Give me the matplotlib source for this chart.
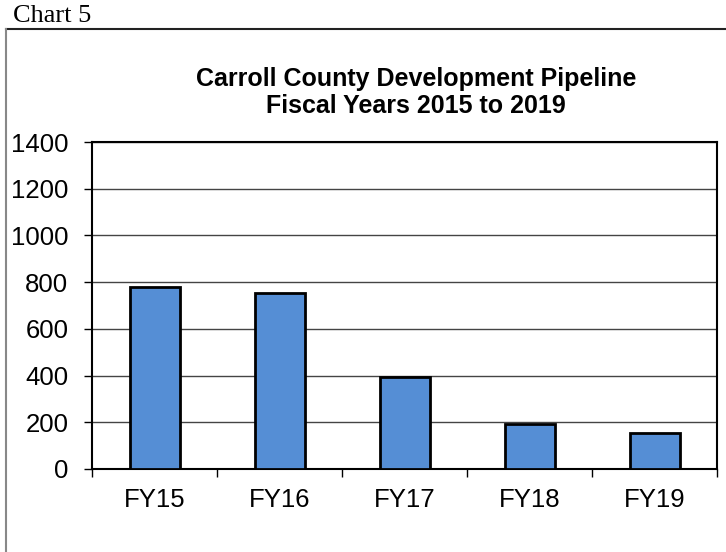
import numpy as np
import matplotlib
matplotlib.use("Agg")
import matplotlib.pyplot as plt
from matplotlib.lines import Line2D

# data
categories = ["FY15", "FY16", "FY17", "FY18", "FY19"]
values = [778, 755, 394, 191, 153]
y_ticks = [0, 200, 400, 600, 800, 1000, 1200, 1400]
title_lines = ["Carroll County Development Pipeline", "Fiscal Years 2015 to 2019"]

W, H = 726, 552
fig = plt.figure(figsize=(W / 100, H / 100), dpi=100)

# axes placed in pixel terms of the reference
left, right, top, bottom = 92, 717, 142, 469
ax = fig.add_axes([left / W, 1 - bottom / H, (right - left) / W, (bottom - top) / H])

x = np.arange(len(categories))
ax.bar(x, values, width=0.4, color="#558ED5", edgecolor="black", linewidth=2, zorder=3)

ax.set_xlim(-0.5, len(categories) - 0.5)
ax.set_ylim(0, 1400)
ax.set_yticks(y_ticks)
ax.set_yticklabels([str(v) for v in y_ticks], fontsize=18.5, family="Liberation Sans")
ax.yaxis.grid(True, color="#444444", linewidth=1, zorder=0)

# category labels centred, tick marks on the boundaries
ax.set_xticks(x)
ax.set_xticklabels(categories, fontsize=18.5, family="Liberation Sans")
ax.tick_params(axis="x", length=0, pad=14)
ax.set_xticks(np.arange(-0.5, len(categories)), minor=True)
ax.tick_params(axis="x", which="minor", length=6, width=1, direction="out")
ax.tick_params(axis="y", length=6, width=1, direction="out", pad=11)

for s in ax.spines.values():
    s.set_linewidth(1.5)
    s.set_color("black")

# title, two centred lines
fig.text(416 / W, 1 - 86 / H, title_lines[0], ha="center", va="baseline",
         fontsize=18, fontweight="bold", family="Liberation Sans")
fig.text(416 / W, 1 - 113 / H, title_lines[1], ha="center", va="baseline",
         fontsize=18, fontweight="bold", family="Liberation Sans")

# "Chart 5" caption and the outer frame (top and left only)
fig.text(13 / W, 1 - 22 / H, "Chart 5", ha="left", va="baseline", fontsize=19, family="Liberation Serif")
fig.add_artist(Line2D([6 / W, 1], [1 - 29 / H, 1 - 29 / H], color="#222222", linewidth=1.5))
fig.add_artist(Line2D([6 / W, 6 / W], [0, 1 - 29 / H], color="#888888", linewidth=1.5))

fig.savefig("out.png", dpi=100)
